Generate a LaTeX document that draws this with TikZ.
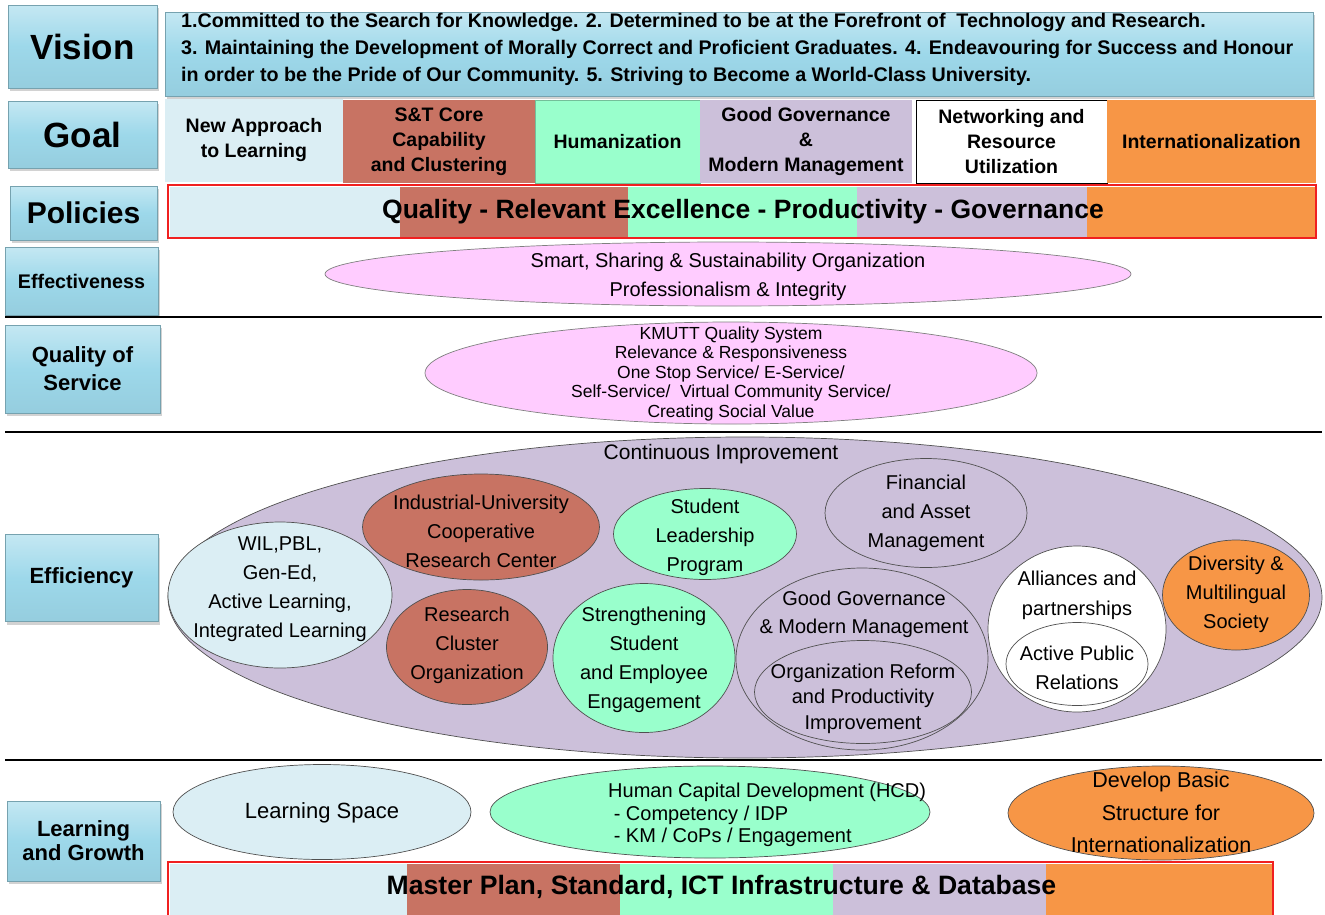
\documentclass[tikz,border=0pt]{standalone}
\usepackage{fontspec}
\setmainfont{Liberation Sans}
\usetikzlibrary{shapes.geometric,shadows}

\definecolor{lblue}{HTML}{9DD8EA}
\definecolor{pale}{HTML}{DBEEF4}
\definecolor{brick}{HTML}{C87363}
\definecolor{mint}{HTML}{99FFCC}
\definecolor{lav}{HTML}{CCC0DA}
\definecolor{orng}{HTML}{F79646}
\definecolor{pink}{HTML}{FFCCFF}
\definecolor{edge}{HTML}{505050}
\definecolor{barred}{HTML}{F02020}

\newcommand\fsz[2]{\fontsize{#1}{#2}\selectfont}

\begin{document}
\begin{tikzpicture}[x=1pt,y=-1pt,
  label/.style={draw=lblue!75!black, line width=0.5pt,
    top color=lblue!60!white, bottom color=lblue!95!black, middle color=lblue,
    drop shadow={shadow xshift=2pt,shadow yshift=-3pt,opacity=0.35},
    font=\bfseries, align=center, inner sep=0pt},
  cell/.style={inner sep=0pt, align=center, font=\bfseries\fsz{19.5}{25}},
  oval/.style={ellipse, draw=edge, line width=0.7pt, inner sep=0pt},
  ovtext/.style={font=\fsz{20}{29}, align=center, inner sep=0pt},
  sepline/.style={line width=2pt, black}
]
\useasboundingbox (0,0) rectangle (1325,914);
\fill[white] (0,0) rectangle (1325,914);

% ---------- row labels ----------
\node[label, minimum width=149pt, minimum height=83pt, font=\bfseries\fsz{35}{40}] (lvision) at (82.5,46.5) {Vision};
\node[label, minimum width=149pt, minimum height=67pt, font=\bfseries\fsz{35}{40}] (lgoal) at (82.5,134.5) {Goal};
\node[label, minimum width=147pt, minimum height=54pt, font=\bfseries\fsz{30}{34}] (lpol) at (83.5,213) {Policies};
\node[label, minimum width=153pt, minimum height=68pt, font=\bfseries\fsz{19.7}{24}] (leffect) at (81.5,281) {Effectiveness};
\node[label, minimum width=155pt, minimum height=88pt, font=\bfseries\fsz{22}{28}] (lqos) at (82.5,369) {Quality of\\Service};
\node[label, minimum width=153pt, minimum height=87pt, font=\bfseries\fsz{22}{28}] (leffic) at (81.5,578) {Efficiency};
\node[label, minimum width=153pt, minimum height=80pt, font=\bfseries\fsz{22}{24}] (llg) at (83.5,841) {Learning\\and Growth};

% ---------- vision statement ----------
\node[label, minimum width=1148pt, minimum height=84pt] (vbox) at (739,54) {};
\node[anchor=west, align=left, inner sep=0pt, font=\bfseries\fsz{19.7}{27}] (vtext) at (181,49)
 {1.Committed to the Search for Knowledge. 2. Determined to be at the Forefront of\ \ Technology and Research.\\
  3. Maintaining the Development of Morally Correct and Proficient Graduates. 4. Endeavouring for Success and Honour\\
  in order to be the Pride of Our Community. 5. Striving to Become a World-Class University.};

% ---------- goals ----------
\node[cell, fill=pale, minimum width=178pt, minimum height=83pt] (g1) at (254,140) {New Approach\\to Learning};
\node[cell, fill=brick, minimum width=192pt, minimum height=83pt] (g2) at (439,141.5) {S\&T Core\\Capability\\and Clustering};
\node[cell, fill=mint, draw=mint!75!black, line width=0.5pt, minimum width=165pt, minimum height=83pt] (g3) at (617.5,141.5) {Humanization};
\node[cell, fill=lav, minimum width=212pt, minimum height=83pt] (g4) at (806,141.5) {Good Governance\\\&\\Modern Management};
\node[cell, fill=white, draw=black, line width=0.8pt, minimum width=191pt, minimum height=83pt] (g5) at (1011.5,141.5) {Networking and\\Resource\\Utilization};
\node[cell, fill=orng, minimum width=209pt, minimum height=83pt] (g6) at (1211.5,141.5) {Internationalization};

% ---------- policies bar ----------
\fill[pale]  (170,187) rectangle (400,238);
\fill[brick] (400,187) rectangle (628,238);
\fill[mint]  (628,187) rectangle (857,238);
\fill[lav]   (857,187) rectangle (1087,238);
\fill[orng]  (1087,187) rectangle (1315,238);
\node[draw=barred, line width=1.2pt, inner sep=0pt, minimum width=1148pt, minimum height=53pt] (polbar) at (742,211.5) {};
\node[inner sep=0pt, font=\bfseries\fsz{26.5}{30}] (poltext) at (743,212) {Quality - Relevant Excellence - Productivity - Governance};

% ---------- effectiveness ----------
\node[oval, fill=pink, draw=gray, minimum width=806pt, minimum height=64pt] (effect) at (728,274) {};
\node[ovtext] (effecttext) at (728,276.5) {Smart, Sharing \& Sustainability Organization\\Professionalism \& Integrity};
\draw[sepline] (5,317) -- (1322,317);

% ---------- quality of service ----------
\node[oval, fill=pink, draw=gray, minimum width=612pt, minimum height=102pt] (qos) at (731,373) {};
\node[ovtext, font=\fsz{17.5}{19.5}] (qostext) at (731,373.5)
  {KMUTT Quality System\\Relevance \& Responsiveness\\One Stop Service/ E-Service/\\Self-Service/\ \ Virtual Community Service/\\Creating Social Value};
\draw[sepline] (5,432) -- (1322,432);

% ---------- efficiency ----------
\node[oval, fill=lav, minimum width=1154pt, minimum height=321pt] (ci) at (745,597.5) {};
\node[ovtext, font=\fsz{21}{25}] (citext) at (721,454) {Continuous Improvement};

\node[oval, fill=pale, minimum width=224pt, minimum height=146pt] (wil) at (280,595) {};
\node[ovtext] (wiltext) at (280,589) {WIL,PBL,\\Gen-Ed,\\Active Learning,\\Integrated Learning};

\node[oval, fill=brick, minimum width=237pt, minimum height=106pt] (iucrc) at (481,527) {};
\node[ovtext] (iucrctext) at (481,531.5) {Industrial-University\\Cooperative\\Research Center};

\node[oval, fill=brick, minimum width=161pt, minimum height=115pt] (rco) at (467,647) {};
\node[ovtext] (rcotext) at (467,645.5) {Research\\Cluster\\Organization};

\node[oval, fill=mint, minimum width=183pt, minimum height=91pt] (slp) at (705,534) {};
\node[ovtext] (slptext) at (705,537) {Student\\Leadership\\Program};

\node[oval, fill=mint, minimum width=182pt, minimum height=149pt] (sse) at (644,658) {};
\node[ovtext] (ssetext) at (644,659.5) {Strengthening\\Student\\and Employee\\Engagement};

\node[oval, fill=lav, minimum width=202pt, minimum height=109pt] (fam) at (926,513) {};
\node[ovtext] (famtext) at (926,513.5) {Financial\\and Asset\\Management};

\node[oval, fill=lav, minimum width=252pt, minimum height=182pt] (ggm) at (862,659) {};
\node[ovtext, font=\fsz{20}{28}] (ggmtext) at (864,614) {Good Governance\\\& Modern Management};
\node[oval, fill=lav, minimum width=217pt, minimum height=103pt] (orp) at (863,692) {};
\node[ovtext, font=\fsz{20}{25.5}] (orptext) at (863,698.5) {Organization Reform\\and Productivity\\Improvement};

\node[oval, fill=white, minimum width=178pt, minimum height=166pt] (alli) at (1077,629) {};
\node[ovtext, font=\fsz{20}{30}] (allitext) at (1077,595) {Alliances and\\partnerships};
\node[oval, fill=white, minimum width=142pt, minimum height=83pt] (apr) at (1077,664) {};
\node[ovtext] (aprtext) at (1077,667.5) {Active Public\\Relations};

\node[oval, fill=orng, minimum width=147pt, minimum height=110pt] (dms) at (1236,595) {};
\node[ovtext] (dmstext) at (1236,594) {Diversity \&\\Multilingual\\Society};
\draw[sepline] (5,760) -- (1322,760);

% ---------- learning and growth ----------
\node[oval, fill=pale, minimum width=298pt, minimum height=95pt] (lspace) at (322,812) {};
\node[ovtext, font=\fsz{22}{26}] (lspacetext) at (322,813) {Learning Space};

\node[oval, fill=mint, minimum width=440pt, minimum height=92pt] (hcd) at (710,812) {};
\node[anchor=west, align=left, inner sep=0pt, font=\fsz{20}{22.5}] (hcdtext) at (608,815)
  {Human Capital Development (HCD)\\\ - Competency / IDP\\\ - KM / CoPs / Engagement};

\node[oval, fill=orng, minimum width=306pt, minimum height=94pt] (dbs) at (1161,813) {};
\node[ovtext, font=\fsz{21.5}{32.5}] (dbstext) at (1161,812.5) {Develop Basic\\Structure for\\Internationalization};

% ---------- master plan bar ----------
\fill[pale]  (170,864) rectangle (407,920);
\fill[brick] (407,864) rectangle (620,920);
\fill[mint]  (620,864) rectangle (833,920);
\fill[lav]   (833,864) rectangle (1046,920);
\fill[orng]  (1046,864) rectangle (1272,920);
\draw[barred, line width=1.2pt] (168,920) -- (168,862) -- (1273,862) -- (1273,920);
\node[inner sep=0pt, font=\bfseries\fsz{26.6}{30}] (mptext) at (721.5,887) {Master Plan, Standard, ICT Infrastructure \& Database};
\end{tikzpicture}
\end{document}
